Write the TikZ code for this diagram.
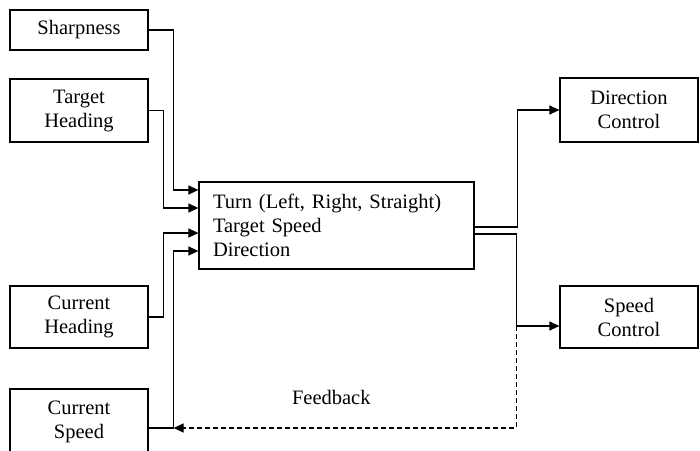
\documentclass[tikz,border=0pt]{standalone}
\usepackage{fontspec}
\setmainfont{Liberation Serif}
\usetikzlibrary{arrows.meta}

\tikzstyle{block} = [rectangle, minimum width=138pt, minimum height=62pt, align=center, draw=black, line width=1.2pt]
\tikzstyle{mainbox} = [rectangle, minimum height=87pt, text width=247pt, inner xsep=14pt, align=left, draw=black, line width=1.2pt]
\tikzstyle{arrow} = [line width=1.2pt, -{Triangle[length=10pt,width=9pt]}]
\tikzstyle{feedback} = [arrow, dash pattern=on 5pt off 3pt]

\begin{document}
\begin{tikzpicture}[x=1pt, y=1pt, node distance=80pt, font=\fontsize{20.5}{24}\selectfont]
\useasboundingbox (0,0) rectangle (700,-450);
\clip (0,0) rectangle (700,-450);

\node (sharp) [block, minimum height=40pt] at (79,-30) {Sharpness};
\node (thead) [block, below of=sharp, yshift=-0.5pt, minimum height=63pt] {Target\\Heading};
\node (chead) [block, below of=thead, yshift=-126.5pt] {Current\\Heading};
\node (cspeed) [block, below of=chead, yshift=-25pt, minimum height=66pt] {Current\\Speed};

\node (ctrl) [mainbox, right of=thead, xshift=177.5pt, yshift=-115pt] {Turn (Left, Right, Straight)\\Target Speed\\Direction};

\node (dirctl) [block, right of=ctrl, xshift=212.5pt, yshift=115.5pt, minimum height=64pt] {Direction\\Control};
\node (spdctl) [block, below of=dirctl, yshift=-127pt] {Speed\\Control};

\coordinate (tap) at ([yshift=-9pt, xshift=-43pt]spdctl.west);

% Arrows
\draw [arrow] (sharp.east) -- ++(25,0) |- ([yshift=35.5pt]ctrl.west);
\draw [arrow] (thead.east) -- ++(15,0) |- ([yshift=17.5pt]ctrl.west);
\draw [arrow] (chead.east) -- ++(15,0) |- ([yshift=-7.5pt]ctrl.west);
\draw [arrow] ([yshift=-6pt]cspeed.east) -- ++(25,0) coordinate (fbin) |- ([yshift=-25.5pt]ctrl.west);

\draw [arrow] ([yshift=-1.5pt]ctrl.east) -- ++(43,0) |- (dirctl.west);
\draw [arrow] ([yshift=-8.5pt]ctrl.east) -| (tap) -- ([yshift=-9pt]spdctl.west);

\draw [feedback] (tap) |- node[pos=0.77, yshift=31pt] {Feedback} (fbin);

\end{tikzpicture}
\end{document}
